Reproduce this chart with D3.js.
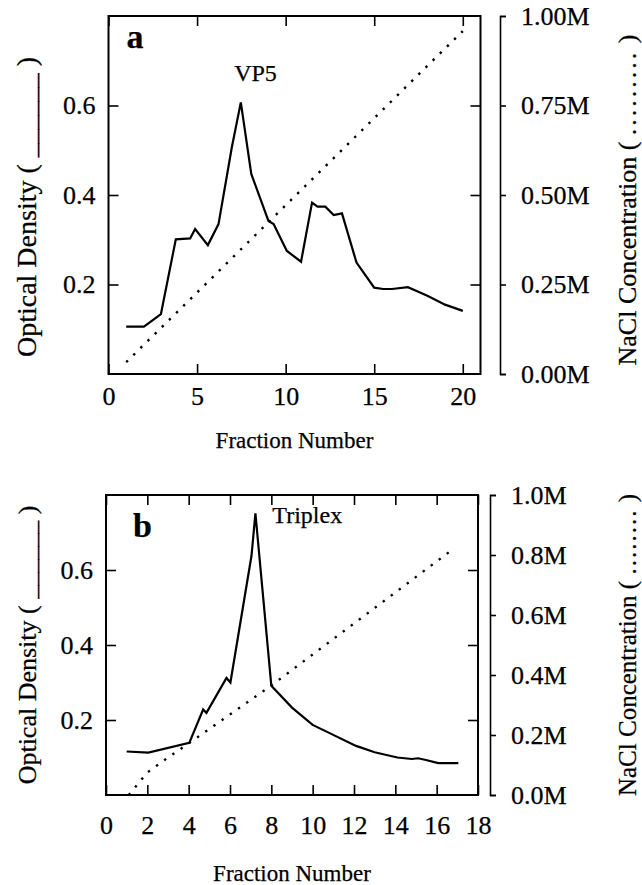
<!DOCTYPE html>
<html>
<head>
<meta charset="utf-8">
<script src="https://cdn.jsdelivr.net/npm/d3@7"></script>
<style>
  body { margin: 0; background: #fff; }
  text { font-family: "Liberation Serif", "Times New Roman", serif; fill: #000; stroke: #000; stroke-width: 0.25px; }
  .tick line, .domain { stroke: #000; stroke-width: 1.6; }
</style>
</head>
<body>
<svg id="chart" width="642" height="885"></svg>
<script>
// panel a: VP5
const fractionA = [1, 2, 2.96, 3.8, 4.61, 4.89, 5.61, 6.21, 6.96, 7.47, 8.06, 9.03, 9.32, 10.07, 10.87, 11.49, 11.8, 12.24, 12.71, 13.18, 14.0, 15.0, 15.5, 16.0, 16.9, 18.0, 19.0, 20.0];
const densityA = [0.106, 0.106, 0.134, 0.301, 0.303, 0.324, 0.288, 0.335, 0.506, 0.607, 0.447, 0.342, 0.335, 0.275, 0.251, 0.383, 0.374, 0.374, 0.355, 0.359, 0.249, 0.193, 0.190, 0.190, 0.194, 0.175, 0.155, 0.141];
const saltFractionA = [1, 20];
const saltA = [0.033, 0.958];
const xTicksA = [0, 5, 10, 15, 20];
const saltTicksA = [0, 0.25, 0.5, 0.75, 1];

// panel b: Triplex
const fractionB = [1.0, 2.05, 4.03, 4.70, 4.86, 5.83, 6.02, 7.04, 7.23, 8.0, 9.0, 10.0, 10.82, 12.1, 13.0, 14.1, 14.8, 15.1, 15.43, 16.08, 17.05];
const densityB = [0.116, 0.113, 0.139, 0.228, 0.219, 0.312, 0.300, 0.638, 0.751, 0.291, 0.233, 0.187, 0.165, 0.131, 0.114, 0.100, 0.096, 0.098, 0.094, 0.085, 0.085];
const saltFractionB = [1.1, 2.0, 3.0, 4.0, 8.0, 16.8];
const saltB = [0.0, 0.075, 0.125, 0.172, 0.365, 0.82];
const xTicksB = [0, 2, 4, 6, 8, 10, 12, 14, 16, 18];
const saltTicksB = [0, 0.2, 0.4, 0.6, 0.8, 1.0];

const odTicks = [0.2, 0.4, 0.6];

const svg = d3.select('#chart');

const panels = [
  {
    letter: 'a', peak: 'VP5', peakAt: [8.3, 0.655], peakAnchor: 'middle',
    left: 108.5, right: 480.5, top: 16, bottom: 374, saltAxisX: 500,
    xMax: 21, xTicks: xTicksA, saltTicks: saltTicksA, saltFormat: d3.format('.2f'),
    fraction: fractionA, density: densityA, saltFraction: saltFractionA, salt: saltA,
    letterOff: [18, 32], tickPad: 13, titleY: 74,
    odSize: 28, odShift: 12, odBar: '______', saltSize: 26, saltShift: 5, dots: '.........', dotGap: 3
  },
  {
    letter: 'b', peak: 'Triplex', peakAt: [8.05, 0.725], peakAnchor: 'start',
    left: 106, right: 478, top: 495, bottom: 795, saltAxisX: 490,
    xMax: 18, xTicks: xTicksB, saltTicks: saltTicksB, saltFormat: d3.format('.1f'),
    fraction: fractionB, density: densityB, saltFraction: saltFractionB, salt: saltB,
    letterOff: [27, 42], tickPad: 21, titleY: 86,
    odSize: 26, odShift: 0, odBar: '______', saltSize: 25, saltShift: 0, dots: '........', dotGap: 2
  }
];

panels.forEach((p) => {
  const x = d3.scaleLinear().domain([0, p.xMax]).range([p.left, p.right]);
  const y = d3.scaleLinear().domain([0, 0.8]).range([p.bottom, p.top]);
  const ySalt = d3.scaleLinear().domain([0, 1]).range([p.bottom, p.top]);
  const g = svg.append('g');

  // frame
  g.append('rect')
    .attr('x', p.left).attr('y', p.top)
    .attr('width', p.right - p.left).attr('height', p.bottom - p.top)
    .attr('fill', 'none').attr('stroke', '#000').attr('stroke-width', 2);

  // inward ticks on all four sides
  const bottomAxis = g.append('g')
    .attr('transform', `translate(0,${p.bottom})`)
    .call(d3.axisBottom(x).tickValues(p.xTicks).tickSize(-10).tickPadding(p.tickPad));
  g.append('g')
    .attr('transform', `translate(0,${p.top})`)
    .call(d3.axisTop(x).tickValues(p.xTicks).tickSize(-10).tickFormat(''));
  g.append('g')
    .attr('transform', `translate(${p.left},0)`)
    .call(d3.axisLeft(y).tickValues(odTicks).tickSize(-10).tickPadding(13).tickFormat(d3.format('.1f')));
  g.append('g')
    .attr('transform', `translate(${p.right},0)`)
    .call(d3.axisRight(y).tickValues(odTicks).tickSize(-10).tickFormat(''));
  g.selectAll('.domain').remove();

  // separate NaCl axis
  g.append('g')
    .attr('transform', `translate(${p.saltAxisX},0)`)
    .call(d3.axisRight(ySalt).tickValues(p.saltTicks).tickSize(6).tickPadding(15)
      .tickFormat((d) => p.saltFormat(d) + 'M'));

  g.selectAll('.tick text')
    .style('font-family', '"Liberation Serif", "Times New Roman", serif')
    .style('font-size', '26px');
  bottomAxis.selectAll('.tick text').attr('dy', '0.71em');

  // NaCl gradient (dotted)
  g.append('path')
    .datum(d3.zip(p.saltFraction, p.salt))
    .attr('fill', 'none').attr('stroke', '#000')
    .attr('stroke-width', 2.4).attr('stroke-dasharray', '2.4,7.6')
    .attr('d', d3.line().x((d) => x(d[0])).y((d) => ySalt(d[1])));

  // optical density (solid)
  g.append('path')
    .datum(d3.zip(p.fraction, p.density))
    .attr('fill', 'none').attr('stroke', '#000')
    .attr('stroke-width', 2.2).attr('stroke-linejoin', 'miter')
    .attr('d', d3.line().x((d) => x(d[0])).y((d) => y(d[1])));

  g.append('text')
    .attr('x', p.left + p.letterOff[0]).attr('y', p.top + p.letterOff[1])
    .style('font-size', '34px').style('font-weight', 'bold')
    .text(p.letter);

  g.append('text')
    .attr('x', x(p.peakAt[0])).attr('y', y(p.peakAt[1]))
    .attr('text-anchor', p.peakAnchor)
    .style('font-size', '24px')
    .text(p.peak);

  const midY = (p.top + p.bottom) / 2;
  g.append('text')
    .attr('transform', `translate(36,${midY + p.odShift}) rotate(-90)`)
    .attr('text-anchor', 'middle')
    .style('font-size', p.odSize + 'px')
    .text(`Optical Density ( ${p.odBar} )`);

  const salt = g.append('text')
    .attr('transform', `translate(636,${midY + p.saltShift}) rotate(-90)`)
    .attr('text-anchor', 'middle')
    .style('font-size', p.saltSize + 'px');
  salt.append('tspan').text('NaCl Concentration ( ');
  salt.append('tspan').style('letter-spacing', p.dotGap + 'px').text(p.dots);
  salt.append('tspan').text(' )');

  g.append('text')
    .attr('x', (p.left + p.right) / 2).attr('y', p.bottom + p.titleY)
    .attr('text-anchor', 'middle')
    .style('font-size', '23px')
    .text('Fraction Number');
});
</script>
</body>
</html>
